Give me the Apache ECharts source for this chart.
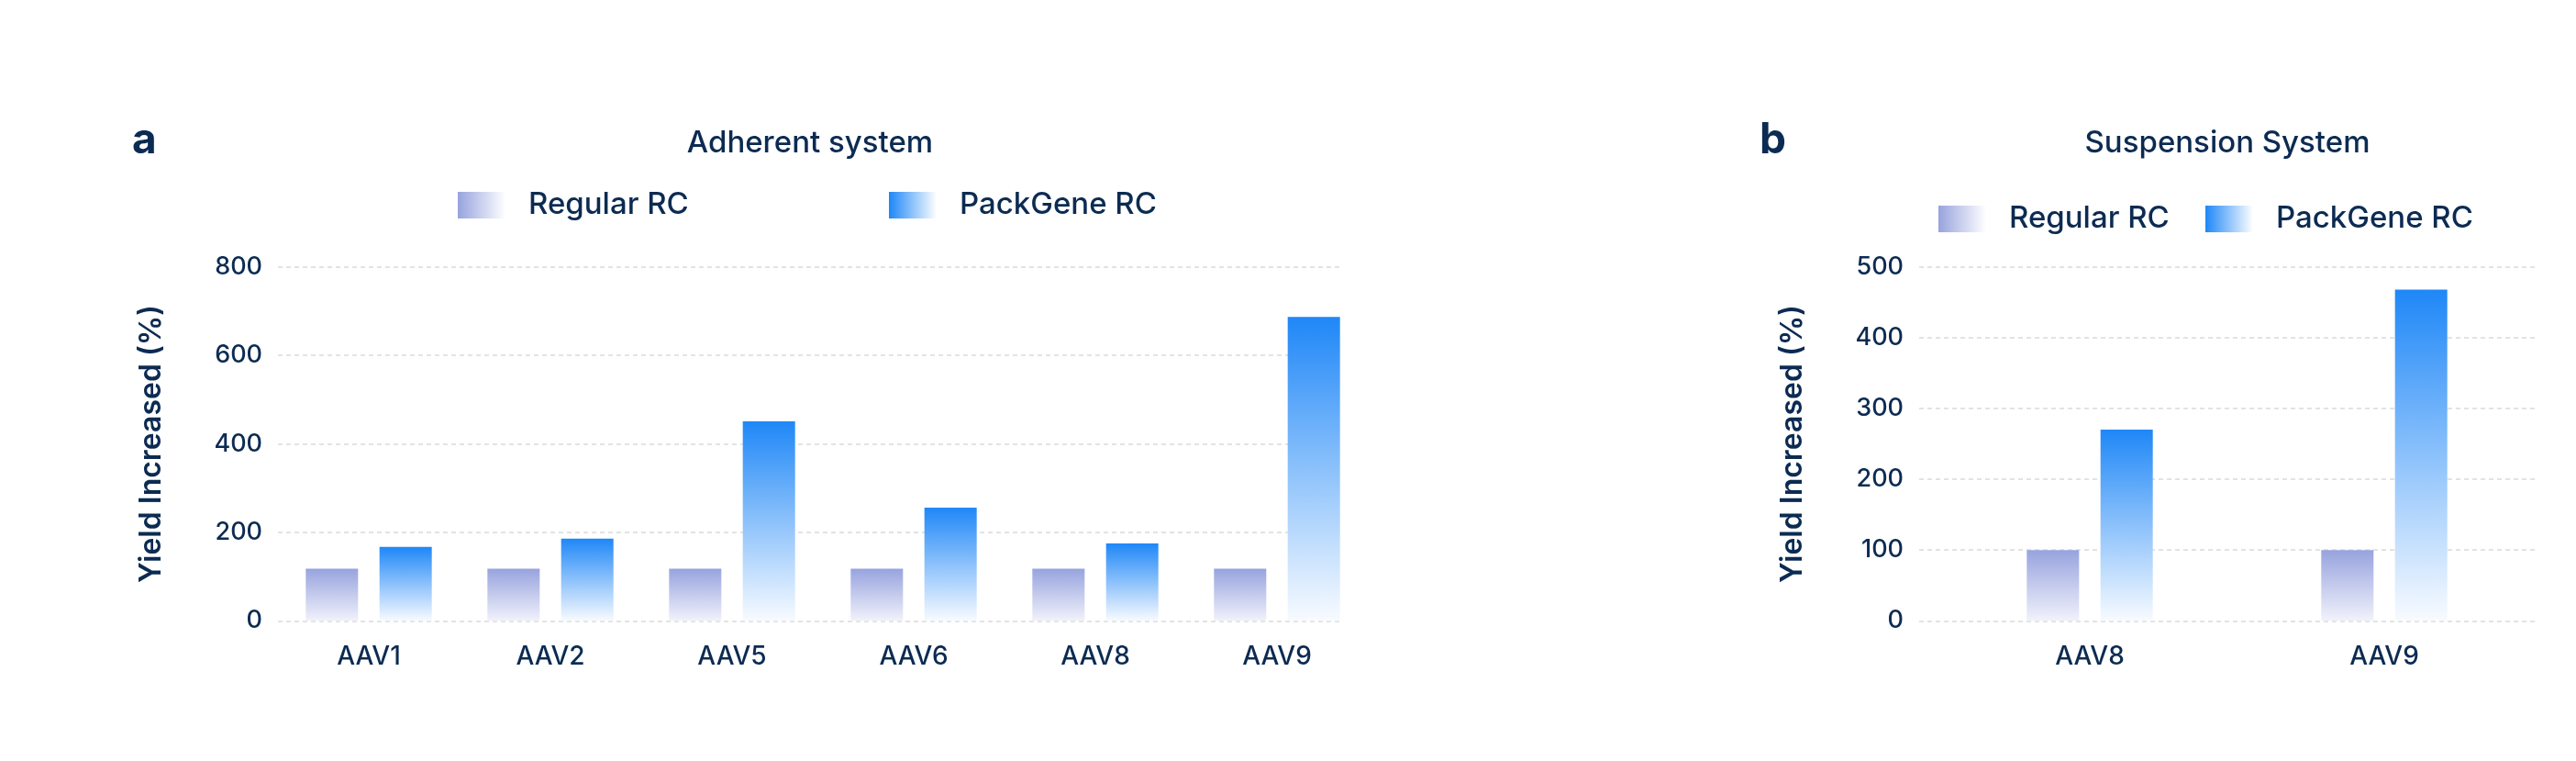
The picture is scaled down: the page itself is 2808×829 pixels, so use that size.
<!DOCTYPE html>
<html><head><meta charset="utf-8">
<script src="https://cdn.jsdelivr.net/npm/echarts@6/dist/echarts.min.js"></script>
<style>html,body{margin:0;padding:0;background:#fff}#c{width:2808px;height:829px}</style>
</head><body><div id="c"></div>
<script>
// ---- data ----
const adherentCategories = ['AAV1', 'AAV2', 'AAV5', 'AAV6', 'AAV8', 'AAV9'];
const adherentRegular = [118, 118, 118, 118, 118, 118];
const adherentPackGene = [167, 186, 451, 256, 175, 687];
const adherentTicks = [0, 200, 400, 600, 800];

const suspensionCategories = ['AAV8', 'AAV9'];
const suspensionRegular = [100, 100];
const suspensionPackGene = [270, 468];
const suspensionTicks = [0, 100, 200, 300, 400, 500];

const seriesNames = ['Regular RC', 'PackGene RC'];
const panelTitles = ['Adherent system', 'Suspension System'];
const panelLetters = ['a', 'b'];
const yAxisName = 'Yield Increased (%)';

// ---- style ----
const NAVY = '#0c2b52';
const FONT = 'Inter';
const G = echarts.graphic.LinearGradient;
const regBar = new G(0, 0, 0, 1, [{offset: 0, color: '#97a3de'}, {offset: 1, color: '#f1f2fb'}]);
const packBar = new G(0, 0, 0, 1, [{offset: 0, color: '#1f87f7'}, {offset: 1, color: '#f8fbff'}]);
const regIcon = new G(0, 0, 1, 0, [{offset: 0, color: '#97a3de'}, {offset: 1, color: '#ffffff'}]);
const packIcon = new G(0, 0, 1, 0, [{offset: 0, color: '#1f87f7'}, {offset: 1, color: '#ffffff'}]);

const TOP = 290.7, H = 385.6;

function valueAxis(gridIndex, ticks, visible) {
  const ax = {
    type: 'value', gridIndex: gridIndex,
    min: ticks[0], max: ticks[ticks.length - 1], interval: ticks[1] - ticks[0],
    show: visible
  };
  if (visible) {
    Object.assign(ax, {
      axisLine: {show: false}, axisTick: {show: false},
      axisLabel: {color: NAVY, fontSize: 27, fontWeight: 500, fontFamily: FONT, margin: 17},
      splitLine: {show: true, lineStyle: {color: '#dadada', width: 1.5, type: [5, 4]}},
      name: yAxisName, nameLocation: 'middle', nameGap: 122,
      nameTextStyle: {color: NAVY, fontSize: 32, fontWeight: 600, fontFamily: FONT}
    });
  }
  return ax;
}
function catAxis(gridIndex, cats, visible) {
  return {
    type: 'category', gridIndex: gridIndex, data: cats, show: visible,
    axisLine: {show: false}, axisTick: {show: false},
    axisLabel: {color: NAVY, fontSize: 28, fontWeight: 500, fontFamily: FONT, margin: 25}
  };
}
function legendItem(left, top, name, icon) {
  return {
    left: left, top: top, padding: 0, itemWidth: 52, itemHeight: 29, icon: 'rect',
    data: [{name: name, itemStyle: {color: icon}}],
    textStyle: {color: NAVY, fontSize: 33, fontWeight: 500, fontFamily: FONT, padding: [0, 0, 0, 20]}
  };
}
function bar(name, xi, data, color) {
  return {
    type: 'bar', name: name, xAxisIndex: xi, yAxisIndex: xi, data: data,
    barWidth: 57, barGap: '41%', itemStyle: {color: color}
  };
}
function txt(x, y, text, font, align) {
  return {type: 'text', x: x, y: y, silent: true,
    style: {text: text, font: font, fill: NAVY, align: align, verticalAlign: 'middle'}};
}

const chart = echarts.init(document.getElementById('c'));
chart.setOption({
  backgroundColor: '#ffffff',
  animation: false,
  grid: [
    {left: 303, top: TOP, width: 1161, height: H},   // adherent axis grid
    {left: 303, top: TOP, width: 1188, height: H},   // adherent bar grid
    {left: 2092, top: TOP, width: 671, height: H},   // suspension axis grid
    {left: 2117.5, top: TOP, width: 642, height: H}  // suspension bar grid
  ],
  xAxis: [
    catAxis(0, adherentCategories, false),
    catAxis(1, adherentCategories, true),
    catAxis(2, suspensionCategories, false),
    catAxis(3, suspensionCategories, true)
  ],
  yAxis: [
    valueAxis(0, adherentTicks, true),
    valueAxis(1, adherentTicks, false),
    valueAxis(2, suspensionTicks, true),
    valueAxis(3, suspensionTicks, false)
  ],
  legend: [
    legendItem(499, 207, seriesNames[0], regIcon),
    legendItem(969, 207, seriesNames[1], packIcon),
    legendItem(2113, 222, seriesNames[0], regIcon),
    legendItem(2404, 222, seriesNames[1], packIcon)
  ],
  graphic: [
    txt(144, 153, panelLetters[0], 'bold 46px ' + FONT, 'left'),
    txt(883, 156, panelTitles[0], '500 33px ' + FONT, 'center'),
    txt(1918, 153, panelLetters[1], 'bold 46px ' + FONT, 'left'),
    txt(2428, 156, panelTitles[1], '500 33px ' + FONT, 'center')
  ],
  series: [
    bar(seriesNames[0], 1, adherentRegular, regBar),
    bar(seriesNames[1], 1, adherentPackGene, packBar),
    bar(seriesNames[0], 3, suspensionRegular, regBar),
    bar(seriesNames[1], 3, suspensionPackGene, packBar)
  ]
});
</script>
</body></html>
